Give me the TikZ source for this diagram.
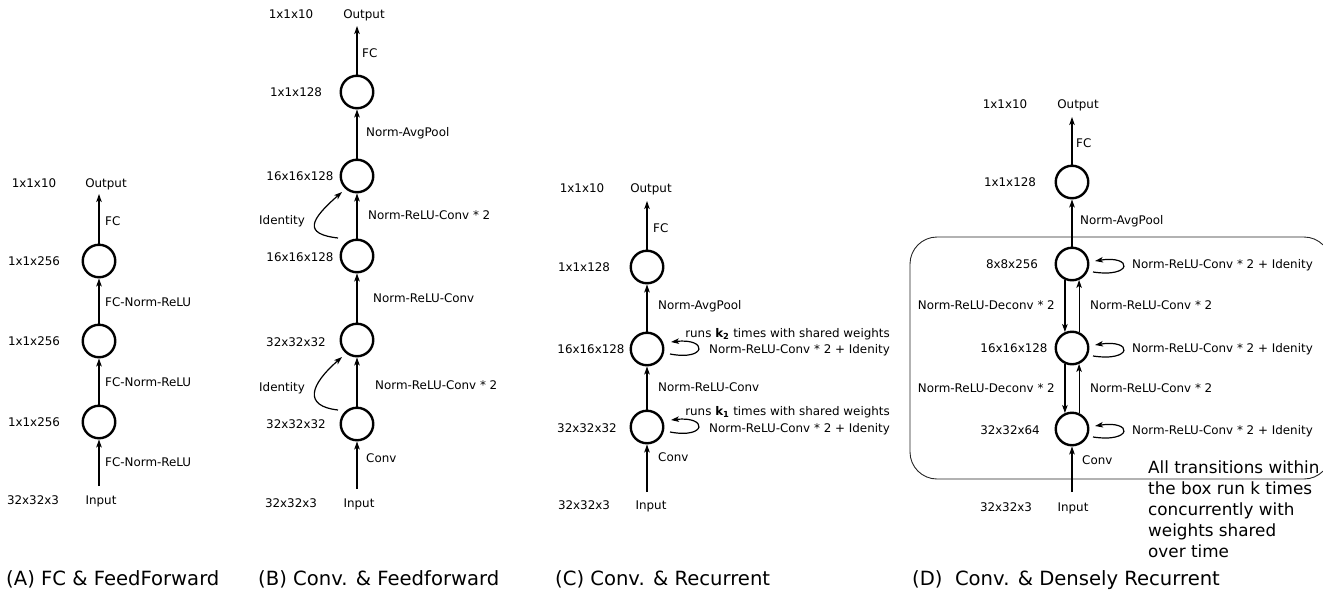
\documentclass[tikz,border=0pt]{standalone}
\usepackage{fontspec}
\setmainfont{DejaVu Sans}
\usetikzlibrary{arrows.meta,calc}
\begin{document}
\begin{tikzpicture}[x=1pt,y=-1pt,
  lbl/.style={font=\fontsize{11.9pt}{14pt}\selectfont, inner sep=0pt, text height=8.7pt, text depth=0pt},
  elbl/.style={lbl, anchor=west},
  rlbl/.style={lbl, anchor=east},
  captxt/.style={font=\fontsize{19.6pt}{24pt}\selectfont, inner sep=0pt, anchor=base west},
  neuron/.style={circle, draw, line width=2.4pt, minimum size=32.5pt, inner sep=0pt},
  conn/.style={line width=1.2pt, -{Stealth[length=8pt,width=5.5pt,inset=2pt]}},
  boxline/.style={line width=0.9pt, draw=black!85, rounded corners=27pt}
  ]
\useasboundingbox (0,0) rectangle (1323,592);

% ---------------- Panel A ----------------
\node[neuron] (a1) at (99,261) {};
\node[neuron] (a2) at (99,341) {};
\node[neuron] (a3) at (99,422) {};
\coordinate (aout) at (99,194);
\coordinate (ain) at (99,486);
\draw[conn] (ain) -- (a3);
\draw[conn] (a3) -- (a2);
\draw[conn] (a2) -- (a1);
\draw[conn] (a1) -- (aout);
\node[lbl] (aOut) at (106,183) {Output};
\node[lbl] (aIn) at (101,500) {Input};
\node[lbl] (aS0) at (34,183) {1x1x10};
\node[lbl] (aS1) at (34,261) {1x1x256};
\node[lbl] (aS2) at (34,341) {1x1x256};
\node[lbl] (aS3) at (34,422) {1x1x256};
\node[lbl] (aS4) at (33,500) {32x32x3};
\node[elbl] (aE1) at (105,221) {FC};
\node[elbl] (aE2) at (105,302) {FC-Norm-ReLU};
\node[elbl] (aE3) at (105,382) {FC-Norm-ReLU};
\node[elbl] (aE4) at (105,462) {FC-Norm-ReLU};

% ---------------- Panel B ----------------
\node[neuron] (b1) at (357,92) {};
\node[neuron] (b2) at (357,176) {};
\node[neuron] (b3) at (357,256) {};
\node[neuron] (b4) at (357,340) {};
\node[neuron] (b5) at (357,424) {};
\coordinate (bout) at (357,26);
\coordinate (bin) at (357,489);
\draw[conn] (bin) -- (b5);
\draw[conn] (b5) -- (b4);
\draw[conn] (b4) -- (b3);
\draw[conn] (b3) -- (b2);
\draw[conn] (b2) -- (b1);
\draw[conn] (b1) -- (bout);
\draw[conn] ($(b3)+(-19,-18)$) .. controls +(-35,-4) and +(-32,28) .. ($(b2)+(-15,16)$);
\draw[conn] ($(b5)+(-19,-14)$) .. controls +(-35,-4) and +(-32,28) .. ($(b4)+(-15,17)$);
\node[lbl] (bOut) at (364,14) {Output};
\node[lbl] (bIn) at (359,503) {Input};
\node[lbl] (bS0) at (291,14) {1x1x10};
\node[lbl] (bS1) at (296,92) {1x1x128};
\node[lbl] (bS2) at (300,176) {16x16x128};
\node[lbl] (bS3) at (300,257) {16x16x128};
\node[lbl] (bS4) at (296,342) {32x32x32};
\node[lbl] (bS5) at (296,424) {32x32x32};
\node[lbl] (bS6) at (291,503) {32x32x3};
\node[elbl] (bE1) at (362,53) {FC};
\node[elbl] (bE2) at (366,132) {Norm-AvgPool};
\node[elbl] (bE3) at (368,215) {Norm-ReLU-Conv * 2};
\node[elbl] (bE4) at (373,298) {Norm-ReLU-Conv};
\node[elbl] (bE5) at (375,385) {Norm-ReLU-Conv * 2};
\node[elbl] (bE6) at (366,458) {Conv};
\node[lbl] (bId1) at (282,220) {Identity};
\node[lbl] (bId2) at (282,387) {Identity};

% ---------------- Panel C ----------------
\node[neuron] (c1) at (647,267) {};
\node[neuron] (c2) at (647,349) {};
\node[neuron] (c3) at (647,427) {};
\coordinate (cout) at (647,201);
\coordinate (cin) at (647,492);
\draw[conn] (cin) -- (c3);
\draw[conn] (c3) -- (c2);
\draw[conn] (c2) -- (c1);
\draw[conn] (c1) -- (cout);
\draw[conn] ($(c2)+(23,5)$) .. controls +(37,7) and +(37,-4) .. ($(c2)+(24,-7)$);
\draw[conn] ($(c3)+(23,5)$) .. controls +(37,7) and +(37,-4) .. ($(c3)+(24,-7)$);
\node[lbl] (cOut) at (651,188) {Output};
\node[lbl] (cIn) at (651,505) {Input};
\node[lbl] (cS0) at (582,188) {1x1x10};
\node[lbl] (cS1) at (584,267) {1x1x128};
\node[lbl] (cS2) at (591,349) {16x16x128};
\node[lbl] (cS3) at (587,428) {32x32x32};
\node[lbl] (cS4) at (584,505) {32x32x3};
\node[elbl] (cE1) at (653,228) {FC};
\node[elbl] (cE2) at (658,305) {Norm-AvgPool};
\node[elbl] (cE3) at (658,387) {Norm-ReLU-Conv};
\node[elbl] (cE4) at (658,457) {Conv};
\node[rlbl] (cR2) at (890,333) {runs {\bfseries k\textsubscript{2}} times with shared weights};
\node[rlbl] (cL2) at (890,349) {Norm-ReLU-Conv * 2 + Idenity};
\node[rlbl] (cR1) at (890,411) {runs {\bfseries k\textsubscript{1}} times with shared weights};
\node[rlbl] (cL1) at (890,428) {Norm-ReLU-Conv * 2 + Idenity};

% ---------------- Panel D ----------------
\draw[boxline] (910,237) rectangle (1331,479);
\node[neuron] (d1) at (1072,182) {};
\node[neuron] (d2) at (1072,264) {};
\node[neuron] (d3) at (1072,348) {};
\node[neuron] (d4) at (1072,429) {};
\coordinate (dout) at (1072,117);
\coordinate (din) at (1072,492);
\draw[conn] (din) -- (d4);
\draw[conn] (d4.66) -- (d3.294);
\draw[conn] (d3.246) -- (d4.114);
\draw[conn] (d3.66) -- (d2.294);
\draw[conn] (d2.246) -- (d3.114);
\draw[conn] (d2) -- (d1);
\draw[conn] (d1) -- (dout);
\draw[conn] ($(d2)+(21,8)$) .. controls +(40,6) and +(38,-6) .. ($(d2)+(23,-3)$);
\draw[conn] ($(d3)+(21,8)$) .. controls +(40,6) and +(38,-6) .. ($(d3)+(23,-3)$);
\draw[conn] ($(d4)+(21,8)$) .. controls +(40,6) and +(38,-6) .. ($(d4)+(23,-3)$);
\node[lbl] (dOut) at (1078,104) {Output};
\node[lbl] (dIn) at (1073,507) {Input};
\node[lbl] (dS0) at (1005,104) {1x1x10};
\node[lbl] (dS1) at (1010,182) {1x1x128};
\node[lbl] (dS2) at (1012,264) {8x8x256};
\node[lbl] (dS3) at (1014,348) {16x16x128};
\node[lbl] (dS4) at (1010,430) {32x32x64};
\node[lbl] (dS5) at (1006,507) {32x32x3};
\node[elbl] (dE1) at (1076,143) {FC};
\node[elbl] (dE2) at (1080,220) {Norm-AvgPool};
\node[elbl] (dE3) at (1082,460) {Conv};
\node[rlbl] (dDc1) at (1055,305) {Norm-ReLU-Deconv * 2};
\node[rlbl] (dDc2) at (1055,388) {Norm-ReLU-Deconv * 2};
\node[elbl] (dCv1) at (1090,305) {Norm-ReLU-Conv * 2};
\node[elbl] (dCv2) at (1090,388) {Norm-ReLU-Conv * 2};
\node[elbl] (dL1) at (1132,264) {Norm-ReLU-Conv * 2 + Idenity};
\node[elbl] (dL2) at (1132,348) {Norm-ReLU-Conv * 2 + Idenity};
\node[elbl] (dL3) at (1132,430) {Norm-ReLU-Conv * 2 + Idenity};
\node[anchor=north west, align=left, inner sep=0pt, font=\fontsize{16.8pt}{21pt}\selectfont] (dNote) at (1148,461)
  {All transitions within\\the box run k times\\concurrently with\\weights shared\\over time};

% ---------------- Captions ----------------
\node[captxt] (capA) at (6,585) {(A) FC \& FeedForward};
\node[captxt] (capB) at (258,585) {(B) Conv. \& Feedforward};
\node[captxt] (capC) at (555,585) {(C) Conv. \& Recurrent};
\node[captxt] (capD) at (912,585) {(D)~~Conv. \& Densely Recurrent};
\end{tikzpicture}
\end{document}
